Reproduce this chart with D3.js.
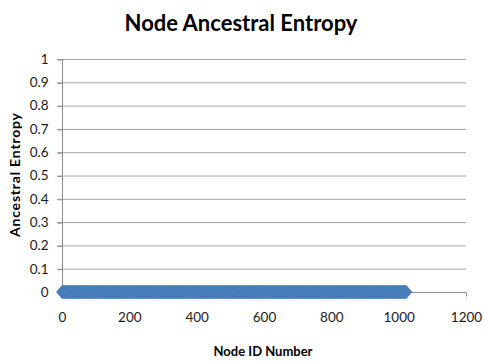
<!DOCTYPE html>
<html><head><meta charset="utf-8">
<script src="https://cdn.jsdelivr.net/npm/d3@7"></script>
<style>body{margin:0;background:#fff}svg{display:block}</style>
</head><body>
<svg id="c" width="484" height="362"></svg>
<script>
// Data: node IDs 0..1023, ancestral entropy read as 0 for every node
const nodeCount = 1024;
const nodeIds = Array.from({length: nodeCount}, (_, i) => i);
const entropy = new Array(nodeCount).fill(0);
const xTicks = [0, 200, 400, 600, 800, 1000, 1200];
const yTicks = [0, 0.1, 0.2, 0.3, 0.4, 0.5, 0.6, 0.7, 0.8, 0.9, 1];
const title = "Node Ancestral Entropy";
const xTitle = "Node ID Number";
const yTitle = "Ancestral Entropy";

const svg = d3.select("#c");
const x = d3.scaleLinear().domain([0, 1200]).range([62, 466]);
const y = d3.scaleLinear().domain([0, 1]).range([292, 59]);
const font = "Lato, 'Open Sans', sans-serif";

// gridlines
svg.append("g").selectAll("line").data(yTicks.filter(d => d > 0)).join("line")
  .attr("x1", 57).attr("x2", 466)
  .attr("y1", d => y(d) + 0.5).attr("y2", d => y(d) + 0.5)
  .attr("stroke", "#a6a6a6").attr("stroke-width", 1);

// y axis
const ya = svg.append("g").attr("transform", "translate(62.5,0)")
  .call(d3.axisLeft(y).tickValues(yTicks).tickSize(5).tickPadding(9).tickFormat(d3.format("~g")));
ya.select(".domain").attr("stroke", "#8c8c8c").attr("d", `M0,${y(1)}V${y(0)}`);
ya.selectAll(".tick line").attr("stroke", "#8c8c8c").attr("transform", "translate(0,0.5)");
ya.selectAll(".tick text").attr("font-family", font).attr("font-size", 13.5).attr("fill", "#1a1a1a");

// x axis
const xa = svg.append("g").attr("transform", `translate(0,${y(0) + 0.5})`)
  .call(d3.axisBottom(x).tickValues(xTicks).tickSize(4).tickPadding(16).tickFormat(d3.format("d")));
xa.select(".domain").attr("stroke", "#8c8c8c").attr("d", `M${x(0)},0H${x(1200)}`);
xa.selectAll(".tick line").attr("stroke", "#8c8c8c");
xa.selectAll(".tick text").attr("font-family", font).attr("font-size", 13.5).attr("fill", "#1a1a1a");

// series line
const line = d3.line().x((d, i) => x(nodeIds[i])).y(d => y(d));
svg.append("path").datum(entropy).attr("d", line)
  .attr("fill", "none").attr("stroke", "#4a7ebb").attr("stroke-width", 12);
// diamond markers
const sym = d3.symbol().type(d3.symbolDiamond2).size(120);
svg.append("g").selectAll("path").data(entropy).join("path")
  .attr("transform", (d, i) => `translate(${x(nodeIds[i])},${y(d)}) scale(0.85,1)`)
  .attr("d", sym).attr("fill", "#4a7ebb");

// titles
svg.append("text").attr("x", 241).attr("y", 31).attr("text-anchor", "middle")
  .attr("font-family", font).attr("font-weight", "bold").attr("font-size", 22).attr("fill", "#000").text(title);
svg.append("text").attr("x", 263).attr("y", 356).attr("text-anchor", "middle")
  .attr("font-family", font).attr("font-weight", "bold").attr("font-size", 13).attr("fill", "#000").text(xTitle);
svg.append("text").attr("transform", "translate(20,175) rotate(-90)").attr("text-anchor", "middle")
  .attr("font-family", font).attr("font-weight", "bold").attr("font-size", 14)
  .attr("textLength", 124).attr("lengthAdjust", "spacing").attr("fill", "#000").text(yTitle);
</script>
</body></html>
